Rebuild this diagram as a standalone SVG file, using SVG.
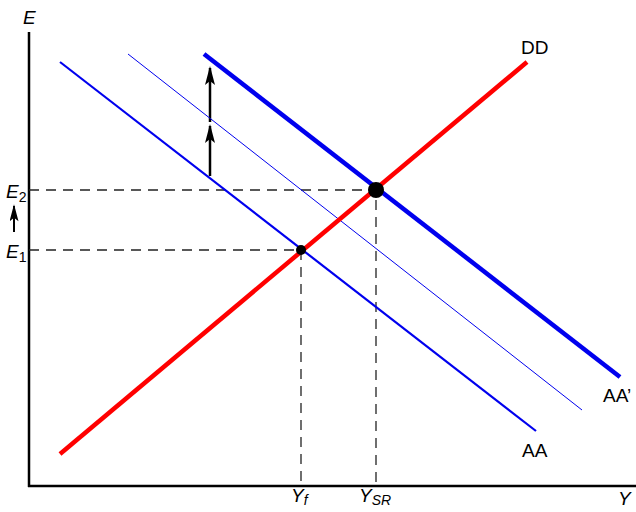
<svg xmlns="http://www.w3.org/2000/svg" width="636" height="512" viewBox="0 0 636 512">
<defs>
<style>
text{font-family:"Liberation Sans",Arial,sans-serif;font-size:19px;fill:#000}
.it{font-style:italic}
.dash{stroke:#222;stroke-width:1.3;stroke-dasharray:10,7;fill:none}
.arr{stroke:#000;stroke-width:2.5;fill:none;marker-end:url(#ah)}
</style>
<marker id="ah" viewBox="0 0 20 10" refX="18" refY="5" markerWidth="20" markerHeight="10" markerUnits="userSpaceOnUse" orient="auto">
<path d="M20,5 L1,0 L5,5 L1,10 Z" fill="#000"/>
</marker>
<marker id="ah2" viewBox="0 0 20 10" refX="18" refY="5" markerWidth="18" markerHeight="9" markerUnits="userSpaceOnUse" orient="auto">
<path d="M20,5 L1,0 L5,5 L1,10 Z" fill="#000"/>
</marker>
</defs>
<rect width="636" height="512" fill="#fff"/>
<g id="axes">
<line x1="29" y1="32" x2="29" y2="487" stroke="#000" stroke-width="2.5"/>
<line x1="28" y1="486" x2="636" y2="486" stroke="#000" stroke-width="2.5"/>
<text class="it" x="23" y="24">E</text>
<text class="it" x="618" y="505">Y</text>
</g>
<g id="connectors">
<path class="dash" d="M29,190 H376 V486"/>
<path class="dash" d="M29,250 H301 V486"/>
<line x1="14" y1="232" x2="14" y2="206" stroke="#000" stroke-width="2" marker-end="url(#ah2)"/>
<line class="arr" x1="210" y1="176" x2="210" y2="126"/>
<line class="arr" x1="210" y1="122" x2="210" y2="68"/>
</g>
<g id="curve-AA">
<line x1="60" y1="62" x2="536" y2="431" stroke="#0000ee" stroke-width="2.2"/>
<text x="522" y="457">AA</text>
</g>
<g id="curve-mid">
<line x1="128" y1="54" x2="582" y2="410" stroke="#0000ee" stroke-width="1"/>
</g>
<g id="curve-AAprime">
<line x1="204" y1="54" x2="620" y2="377" stroke="#0000ee" stroke-width="4.5"/>
<text x="603" y="402">AA’</text>
</g>
<g id="curve-DD">
<line x1="60" y1="454" x2="527" y2="62" stroke="#ff0000" stroke-width="4.5"/>
<text x="521" y="54">DD</text>
</g>
<g id="point-E1">
<circle cx="301" cy="250" r="5" fill="#000"/>
</g>
<g id="point-E2">
<circle cx="376" cy="190" r="8" fill="#000"/>
</g>
<g id="labels">
<text class="it" x="6" y="198">E<tspan font-size="14" dy="4" font-style="normal">2</tspan></text>
<text class="it" x="6" y="258">E<tspan font-size="14" dy="4" font-style="normal">1</tspan></text>
<text class="it" x="291" y="502">Y<tspan font-size="14" dy="3">f</tspan></text>
<text class="it" x="359" y="502">Y<tspan font-size="14" dy="3">SR</tspan></text>
</g>
</svg>
